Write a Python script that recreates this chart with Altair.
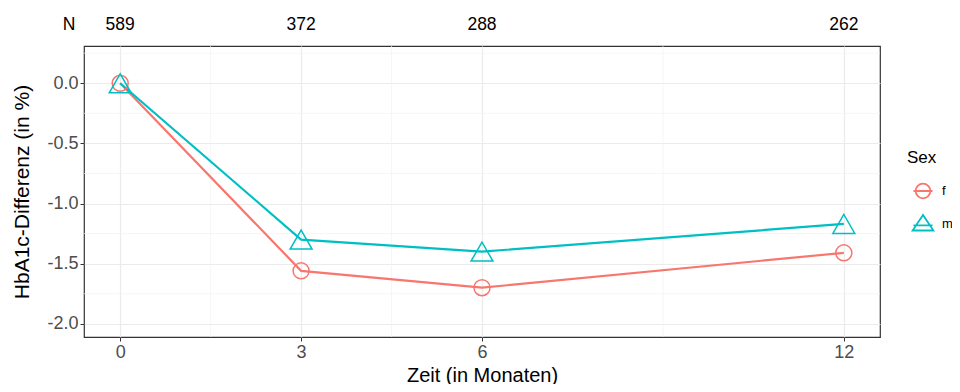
import altair as alt
import pandas as pd

# ---- data ----
months = [0, 3, 6, 12]
hba1c_f = [0.0, -1.56, -1.70, -1.41]
hba1c_m = [0.0, -1.30, -1.40, -1.17]
n_counts = [589, 372, 288, 262]
sex_levels = ["f", "m"]
sex_colors = ["#F8766D", "#00BFC4"]
x_breaks = [0, 3, 6, 12]
x_minor = [1.5, 4.5, 9]
y_breaks = [-2.0, -1.5, -1.0, -0.5, 0.0]
y_minor = [-1.75, -1.25, -0.75, -0.25, 0.25]

df = pd.DataFrame({
    "Zeit": months * 2,
    "Diff": hba1c_f + hba1c_m,
    "Sex": ["f"] * len(months) + ["m"] * len(months),
})
n_df = pd.DataFrame({"Zeit": months, "N": [str(n) for n in n_counts]})
n_head = pd.DataFrame({"t": ["N"]})
xmin_df = pd.DataFrame({"v": x_minor})
ymin_df = pd.DataFrame({"v": y_minor})

FONT = "Liberation Sans"
xscale = alt.Scale(domain=[-0.6, 12.6], nice=False, zero=False)
yscale = alt.Scale(domain=[-2.11, 0.31], nice=False, zero=False)

xenc = alt.X("Zeit:Q", scale=xscale,
             axis=alt.Axis(values=x_breaks, format="d", title="Zeit (in Monaten)"))
yenc = alt.Y("Diff:Q", scale=yscale,
             axis=alt.Axis(values=y_breaks, format=".1f", title="HbA1c-Differenz (in %)",
                           labelExpr="replace(datum.label, '\u2212', '-')"))
color_scale = alt.Scale(domain=sex_levels, range=sex_colors)
color = alt.Color("Sex:N", scale=color_scale, title="Sex",
                  legend=alt.Legend(symbolOpacity=1))

# legend keys in ggplot style: symbol with a line through it
key_circle = "M-0.85,0A0.85,0.85 0 1,1 0.85,0A0.85,0.85 0 1,1 -0.85,0ZM-1.1,0L1.1,0"
key_triangle = "M0,-1.05L-1.2,0.75L1.2,0.75ZM-1.1,0.15L1.1,0.15"
shape_key = alt.Shape("Sex:N", scale=alt.Scale(domain=sex_levels,
                                               range=[key_circle, key_triangle]),
                      title="Sex", legend=alt.Legend(symbolOpacity=1))

grid_x = alt.Chart(xmin_df).mark_rule(color="#f2f2f2", strokeWidth=0.7).encode(
    x=alt.X("v:Q", scale=xscale))
grid_y = alt.Chart(ymin_df).mark_rule(color="#f2f2f2", strokeWidth=0.7).encode(
    y=alt.Y("v:Q", scale=yscale))

lines = alt.Chart(df).mark_line(strokeWidth=2.2).encode(x=xenc, y=yenc, color=color)
points_f = alt.Chart(df).transform_filter(alt.datum.Sex == "f").mark_point(
    filled=False, strokeWidth=1.5, opacity=1, shape="circle", size=256).encode(
    x=xenc, y=yenc, color=color)
points_m = alt.Chart(df).transform_filter(alt.datum.Sex == "m").mark_point(
    filled=False, strokeWidth=1.5, opacity=1, shape="triangle-up", size=480).encode(
    x=xenc, y=yenc, color=color)
legend_layer = alt.Chart(df).mark_point(filled=False, strokeWidth=1.5, opacity=0).encode(
    x=xenc, y=yenc, color=color, shape=shape_key)

n_text = alt.Chart(n_df).mark_text(font=FONT, fontSize=17.5, color="black",
                                   baseline="middle").encode(
    x=alt.X("Zeit:Q", scale=xscale), y=alt.value(-21), text="N:N")
n_label = alt.Chart(n_head).mark_text(font=FONT, fontSize=17.5, color="black",
                                      baseline="middle").encode(
    x=alt.value(-15), y=alt.value(-21), text="t:N")

chart = alt.layer(grid_x, grid_y, lines, points_f, points_m, legend_layer,
                  n_text, n_label).properties(
    width=796, height=291,
    autosize=alt.AutoSizeParams(type="none"),
    padding={"left": 76, "top": 38, "right": 72, "bottom": 47},
).configure_view(
    stroke="#333333", strokeWidth=1.2
).configure_axis(
    labelFont=FONT, titleFont=FONT, labelFontSize=18, titleFontSize=20,
    labelColor="#4d4d4d", titleColor="black", titleFontWeight="normal",
    tickColor="#333333", tickSize=4, domain=False,
    gridColor="#ebebeb", gridWidth=1.2, labelPadding=2,
).configure_axisX(
    titleY=44, titleBaseline="alphabetic"
).configure_axisY(
    titleX=-56, titleBaseline="alphabetic", titleFontSize=21
).configure_legend(
    orient="none", legendX=823, legendY=104,
    titleFont=FONT, labelFont=FONT, titleFontSize=17, labelFontSize=13,
    titleFontWeight="normal", titleColor="black", labelColor="black",
    symbolStrokeWidth=1.8, symbolSize=300, rowPadding=9, titlePadding=14,
    symbolOffset=6, labelOffset=9,
)

chart.save("out.html", embed_options={"renderer": "svg", "actions": False})
